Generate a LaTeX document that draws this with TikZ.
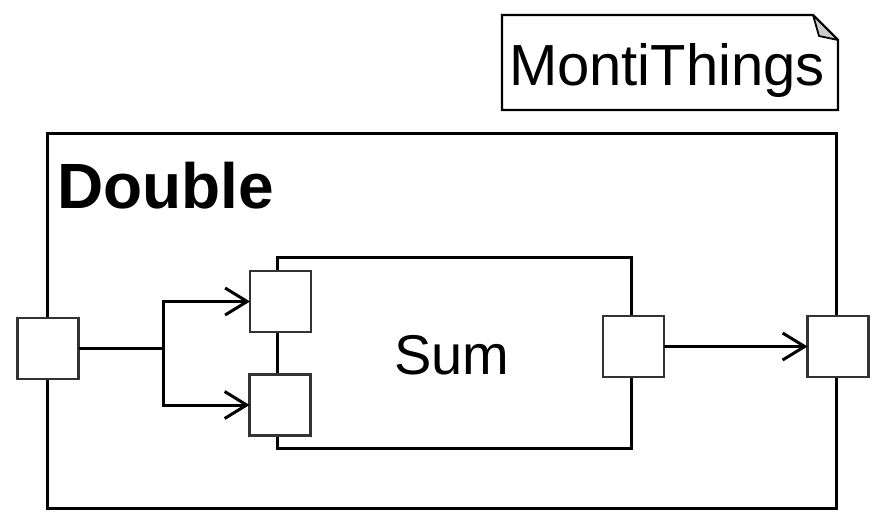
\documentclass[tikz,border=0pt]{standalone}
\usepackage{fontspec}
\setmainfont{Liberation Sans}
\usetikzlibrary{arrows.meta}
\begin{document}
\begin{tikzpicture}[x=1pt,y=-1pt,
  port/.style={draw=black!80, line width=2.2pt, fill=white, minimum width=61pt, minimum height=61pt, inner sep=0pt, outer sep=0pt},
  comp/.style={draw, line width=3pt, inner sep=0pt, outer sep=0pt},
  wire/.style={line width=3pt},
  conn/.style={line width=3pt, -{Straight Barb[length=22pt,width=27pt,line width=3pt]}}
]
\useasboundingbox (0,0) rectangle (877,522);
% note
\draw[line width=2.4pt, fill=white] (502,15) -- (813,15) -- (838,40) -- (838,110) -- (502,110) -- cycle;
\draw[line width=1.8pt, fill=black!20, line join=round] (813,15) -- (838,40) -- (819,36) -- cycle;
\node[anchor=base, inner sep=0pt, font=\fontsize{58}{58}\selectfont] (note) at (667,85) {MontiThings};
% outer component
\node[comp, minimum width=789pt, minimum height=375pt] (double) at (441.5,320.5) {};
\node[anchor=base west, inner sep=0pt, font=\bfseries\fontsize{64}{64}\selectfont] (dlabel) at (57,208) {Double};
% inner component
\node[comp, minimum width=354pt, minimum height=191pt] (sum) at (454,352.5) {};
\node[inner sep=0pt, font=\fontsize{56}{56}\selectfont, anchor=base] (slabel) at (452,374) {Sum};
% ports
\node[port] (lp) at (48,348.5) {};
\node[port] (i1) at (280.5,301.5) {};
\node[port] (i2) at (280,405) {};
\node[port] (o1) at (633.5,346.5) {};
\node[port] (rp) at (838,346.5) {};
% connectors
\coordinate (j) at (163,348.5);
\draw[wire] (lp.east) -- (j);
\draw[conn] (j) |- (i1.west);
\draw[conn] (j) |- (i2.west);
\draw[conn] (o1.east) -- (rp.west);
\end{tikzpicture}
\end{document}
